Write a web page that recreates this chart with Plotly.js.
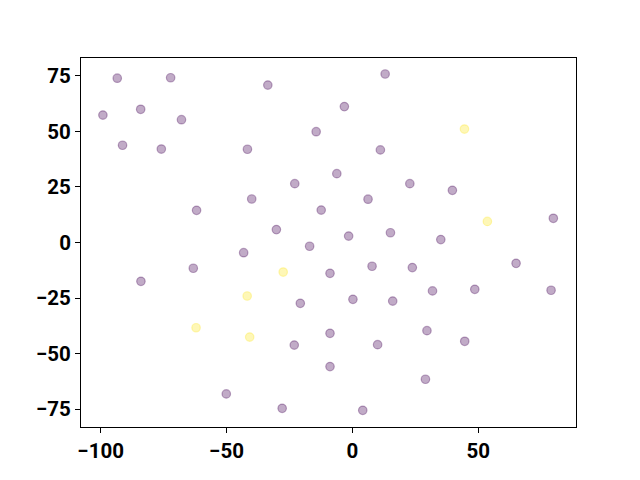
<!DOCTYPE html>
<html>
<head>
<meta charset="utf-8">
<script src="https://cdn.plot.ly/plotly-3.0.1.min.js"></script>
<style>html,body{margin:0;padding:0;background:#fff;}#chart{width:640px;height:480px;}</style>
</head>
<body>
<div id="chart"></div>
<script>
// Class 0 (purple) points
const xPurple = [-93.4, -72.2, -33.6, -99.1, -84.1, -67.9, -14.4, -91.3, -75.9, -41.7,
  -22.9, -40.0, -12.4, -61.9, -30.2,
  13.0, -3.2, 11.1, -6.2, 22.8, 39.7, 6.2, 79.8, -1.5, 15.1, 35.1,
  -17.0, -43.2, -63.2, -84.0, -8.9, -20.7, -8.9, -23.1, -8.9, -50.1, -27.9,
  7.8, 23.8, 65.0, 0.2, 16.0, 31.8, 48.6, 78.9, 29.6, 10.0, 44.6, 29.0, 4.1];
const yPurple = [74.0, 74.2, 70.9, 57.4, 60.0, 55.3, 49.9, 43.8, 42.1, 42.0,
  26.5, 19.6, 14.6, 14.5, 5.8,
  75.9, 61.2, 41.7, 31.0, 26.5, 23.5, 19.5, 10.9, 2.9, 4.4, 1.3,
  -1.7, -4.6, -11.6, -17.5, -13.9, -27.4, -40.9, -46.2, -55.9, -68.2, -74.7,
  -10.7, -11.3, -9.4, -25.6, -26.4, -21.8, -21.1, -21.5, -39.7, -46.0, -44.5, -61.6, -75.6];
// Class 1 (yellow) points
const xYellow = [44.5, 53.6, -27.5, -41.8, -62.1, -40.8];
const yYellow = [51.1, 9.5, -13.3, -24.1, -38.4, -42.6];

const purple = 'rgba(68,1,84,0.33)';
const yellow = 'rgba(253,231,37,0.33)';

const traces = [
  {x: xPurple, y: yPurple, type: 'scatter', mode: 'markers',
   marker: {size: 8.5, color: purple, line: {color: purple, width: 1.2}}, hoverinfo: 'x+y'},
  {x: xYellow, y: yYellow, type: 'scatter', mode: 'markers',
   marker: {size: 8.5, color: yellow, line: {color: yellow, width: 1.2}}, hoverinfo: 'x+y'}
];

const axisCommon = {
  showline: true, mirror: true, linecolor: '#000', linewidth: 1,
  ticks: 'outside', ticklen: 5, tickwidth: 1, tickcolor: '#000',
  showgrid: false, zeroline: false,
  tickfont: {family: 'Roboto, Arial, sans-serif', size: 20.5, color: '#000', weight: 700}
};

const layout = {
  width: 640, height: 480,
  margin: {l: 81, r: 64, t: 58, b: 53},
  paper_bgcolor: '#fff', plot_bgcolor: '#fff',
  showlegend: false,
  xaxis: Object.assign({}, axisCommon, {range: [-107.8, 88.8], tickvals: [-100, -50, 0, 50]}),
  yaxis: Object.assign({}, axisCommon, {range: [-83.1, 83.1], tickvals: [-75, -50, -25, 0, 25, 50, 75]})
};

Plotly.newPlot('chart', traces, layout, {displayModeBar: false, staticPlot: true});
</script>
</body>
</html>
